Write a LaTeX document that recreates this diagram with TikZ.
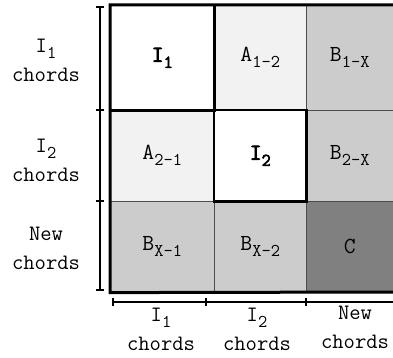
\documentclass[tikz,border=0pt]{standalone}
\usepackage{fontspec}
\setmonofont{Latin Modern Mono}[AutoFakeBold=3]
\newcommand{\mysub}[1]{\raisebox{-6pt}{\fontsize{18}{18}\selectfont #1}}
\definecolor{cA}{HTML}{F2F2F2}
\definecolor{cB}{HTML}{CCCCCC}
\definecolor{cC}{HTML}{808080}
\begin{document}
\begin{tikzpicture}[x=1pt,y=-1pt,
  cell/.style={rectangle,draw=black!70,line width=0.6pt,anchor=north west,inner sep=0pt,font=\ttfamily\fontsize{23}{23}\selectfont},
  lab/.style={align=center,font=\ttfamily\fontsize{22}{29}\selectfont,inner sep=0pt},
  brk/.style={line width=1.4pt}]
\useasboundingbox (0,0) rectangle (393,358);
% cells
\node[cell,fill=white,minimum width=104pt,minimum height=105pt] (c11) at (110,5) {\textbf{I\mysub{\textbf{1}}}};
\node[cell,fill=cA,minimum width=92pt,minimum height=105pt] (c12) at (214,5) {A\mysub{1-2}};
\node[cell,fill=cB,minimum width=87pt,minimum height=105pt] (c13) at (306,5) {B\mysub{1-X}};
\node[cell,fill=cA,minimum width=104pt,minimum height=91pt] (c21) at (110,110) {A\mysub{2-1}};
\node[cell,fill=white,minimum width=92pt,minimum height=91pt] (c22) at (214,110) {\textbf{I\mysub{\textbf{2}}}};
\node[cell,fill=cB,minimum width=87pt,minimum height=91pt] (c23) at (306,110) {B\mysub{2-X}};
\node[cell,fill=cB,minimum width=104pt,minimum height=91pt] (c31) at (110,201) {B\mysub{X-1}};
\node[cell,fill=cB,minimum width=92pt,minimum height=91pt] (c32) at (214,201) {B\mysub{X-2}};
\node[cell,fill=cC,minimum width=87pt,minimum height=91pt] (c33) at (306,201) {C};
% thick boxes
\draw[line width=2.6pt] (c11.north west) rectangle (c11.south east);
\draw[line width=2.6pt] (c22.north west) rectangle (c22.south east);
\draw[line width=3pt] (400,5) -- (c11.north west) -- (c31.south west) -- (400,292);
% left bracket
\coordinate (l0) at (100,7); \coordinate (l1) at (100,110);
\coordinate (l2) at (100,201); \coordinate (l3) at (100,290);
\draw[brk] (l0) -- (l3);
\foreach \p in {l0,l1,l2,l3} \draw[brk] ([xshift=-4pt]\p) -- ([xshift=4pt]\p);
% bottom bracket
\coordinate (b0) at (113,302); \coordinate (b1) at (206,302);
\coordinate (b2) at (306,302); \coordinate (b3) at (400,302);
\draw[brk] (b0) -- (b3);
\foreach \p in {b0,b1,b2} \draw[brk] ([yshift=-4pt]\p) -- ([yshift=4pt]\p);
% labels
\node[lab] (r1) at (46,60) {I\mysub{1}\\chords};
\node[lab] (r2) at (46,160) {I\mysub{2}\\chords};
\node[lab] (r3) at (46,248) {New\\chords};
\node[lab] (k1) at (161,329) {I\mysub{1}\\chords};
\node[lab] (k2) at (257,329) {I\mysub{2}\\chords};
\node[lab] (k3) at (355,327) {New\\chords};
\end{tikzpicture}
\end{document}
